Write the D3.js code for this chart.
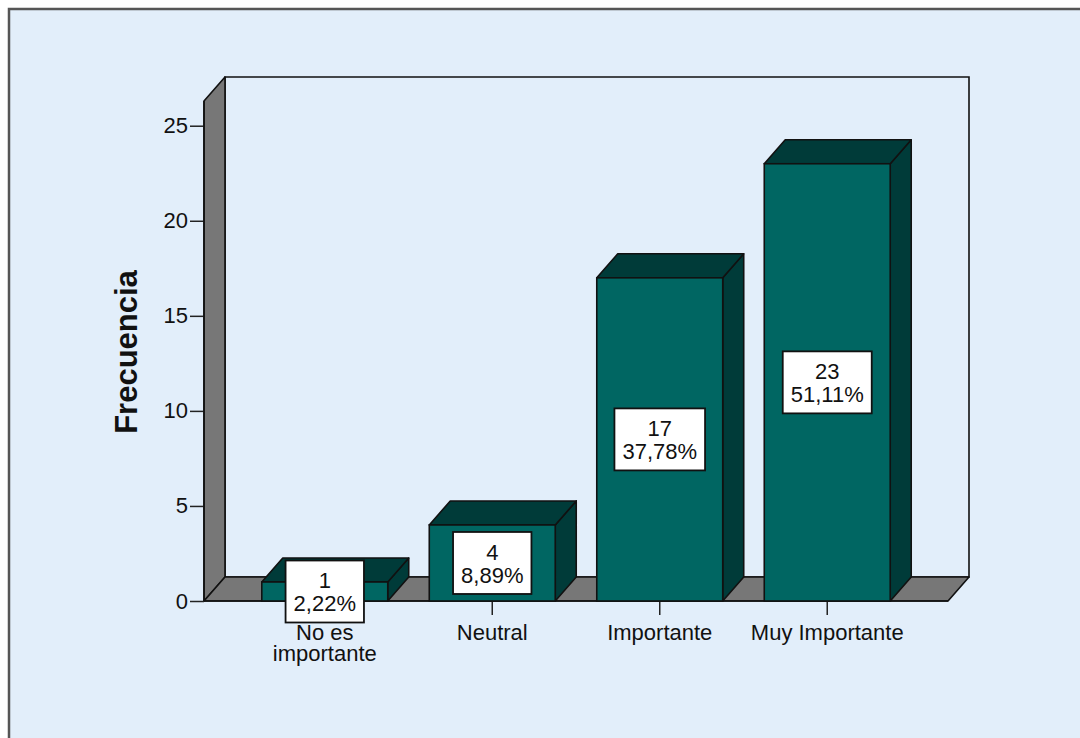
<!DOCTYPE html>
<html>
<head>
<meta charset="utf-8">
<script src="https://cdn.jsdelivr.net/npm/d3@7/dist/d3.min.js"></script>
<style>
  html, body { margin: 0; padding: 0; background: #ffffff; }
  svg { display: block; }
  text { font-family: Arial, "Liberation Sans", sans-serif; fill: #111; }
</style>
</head>
<body>
<svg id="chart" width="1080" height="738"></svg>
<script>
// Frequency of answers per category
const categories = ["No es importante", "Neutral", "Importante", "Muy Importante"];
const counts = [1, 4, 17, 23];
const xTickLabels = [["No es", "importante"], ["Neutral"], ["Importante"], ["Muy Importante"]];
const yTicks = [0, 5, 10, 15, 20, 25];
const yTitle = "Frecuencia";

const total = d3.sum(counts);
const pctFmt = v => d3.format(".2f")(v).replace(".", ",") + "%";

const svg = d3.select("#chart");
const W = 1080, H = 738;

// Colours
const bg = "#e2eefa";
const wallGray = "#777777";
const barFront = "#006662";
const barTop = "#003b39";
const barSide = "#003b39";
const edge = "#111111";

// Outer panel
svg.append("rect").attr("x", 9).attr("y", 9).attr("width", W + 40).attr("height", H + 40)
  .attr("fill", bg).attr("stroke", "#555").attr("stroke-width", 2.5);

// Plot geometry (front plane) and depth offset of the 3D walls/bars
const plot = { left: 204, right: 948, bottom: 601, top: 101 };
const depth = { dx: 21, dy: -24 };

const x = d3.scaleBand().domain(categories)
  .range([plot.left, plot.right]).paddingInner(0.248).paddingOuter(0.345);
const y = d3.scaleLinear().domain([0, 26.3]).range([plot.bottom, plot.top]);

const poly = pts => "M" + pts.map(p => p.join(",")).join("L") + "Z";

// Back wall
svg.append("path")
  .attr("d", poly([
    [plot.left + depth.dx, plot.bottom + depth.dy],
    [plot.left + depth.dx, plot.top + depth.dy],
    [plot.right + depth.dx, plot.top + depth.dy],
    [plot.right + depth.dx, plot.bottom + depth.dy]
  ]))
  .attr("fill", bg).attr("stroke", edge).attr("stroke-width", 1.6);

// Left side wall
svg.append("path")
  .attr("d", poly([
    [plot.left, plot.bottom], [plot.left, plot.top],
    [plot.left + depth.dx, plot.top + depth.dy],
    [plot.left + depth.dx, plot.bottom + depth.dy]
  ]))
  .attr("fill", wallGray).attr("stroke", edge).attr("stroke-width", 1.6).attr("stroke-linejoin", "round");

// Floor
svg.append("path")
  .attr("d", poly([
    [plot.left, plot.bottom], [plot.right, plot.bottom],
    [plot.right + depth.dx, plot.bottom + depth.dy],
    [plot.left + depth.dx, plot.bottom + depth.dy]
  ]))
  .attr("fill", wallGray).attr("stroke", edge).attr("stroke-width", 1.6).attr("stroke-linejoin", "round");

// Y axis
const yAxis = d3.axisLeft(y).tickValues(yTicks).tickSize(14).tickPadding(2).tickFormat(d3.format("d"));
const gy = svg.append("g").attr("transform", `translate(${plot.left},0)`).call(yAxis);
gy.select(".domain").remove();
gy.selectAll(".tick line").attr("stroke", "#222").attr("stroke-width", 1.5);
gy.selectAll(".tick text").attr("font-size", 22).attr("fill", "#222")
  .style("font-family", "Arial, 'Liberation Sans', sans-serif");

// X axis
const xAxis = d3.axisBottom(x).tickSize(14).tickPadding(0).tickFormat("");
const gx = svg.append("g").attr("transform", `translate(0,${plot.bottom})`).call(xAxis);
gx.select(".domain").remove();
gx.selectAll(".tick line").attr("stroke", "#222").attr("stroke-width", 1.5);
gx.selectAll(".tick").each(function (d, i) {
  const t = d3.select(this).append("text")
    .attr("text-anchor", "middle").attr("font-size", 22).attr("fill", "#222")
    .style("font-family", "Arial, 'Liberation Sans', sans-serif");
  xTickLabels[i].forEach((line, k) => {
    t.append("tspan").attr("x", 0).attr("y", 39 + k * 21).text(line);
  });
});

// Front axis edges
svg.append("line").attr("x1", plot.left).attr("x2", plot.right)
  .attr("y1", plot.bottom).attr("y2", plot.bottom).attr("stroke", edge).attr("stroke-width", 1.6);
svg.append("line").attr("x1", plot.left).attr("x2", plot.left)
  .attr("y1", plot.bottom).attr("y2", plot.top).attr("stroke", edge).attr("stroke-width", 1.6);

// Bars
const bars = svg.append("g");
categories.forEach((c, i) => {
  const x0 = x(c), x1 = x(c) + x.bandwidth();
  const yt = y(counts[i]), yb = y(0);
  const g = bars.append("g");
  g.append("path").attr("d", poly([
    [x1, yb], [x1, yt], [x1 + depth.dx, yt + depth.dy], [x1 + depth.dx, yb + depth.dy]
  ])).attr("fill", barSide).attr("stroke", edge).attr("stroke-width", 1.6).attr("stroke-linejoin", "round");
  g.append("path").attr("d", poly([
    [x0, yt], [x1, yt], [x1 + depth.dx, yt + depth.dy], [x0 + depth.dx, yt + depth.dy]
  ])).attr("fill", barTop).attr("stroke", edge).attr("stroke-width", 1.6).attr("stroke-linejoin", "round");
  g.append("rect").attr("x", x0).attr("y", yt).attr("width", x1 - x0).attr("height", yb - yt)
    .attr("fill", barFront).attr("stroke", edge).attr("stroke-width", 1.6);
});

// Value labels (count and percentage) centred on each bar
const labels = svg.append("g");
categories.forEach((c, i) => {
  const cx = x(c) + x.bandwidth() / 2;
  const cy = y(counts[i] / 2);
  const g = labels.append("g").attr("transform", `translate(${cx},${cy})`);
  const box = g.append("rect").attr("fill", "#ffffff").attr("stroke", edge).attr("stroke-width", 1.8);
  const t = g.append("text").attr("text-anchor", "middle").attr("font-size", 22).attr("fill", "#111");
  const l1 = t.append("tspan").attr("x", 0).attr("y", -3).text(counts[i]);
  const l2 = t.append("tspan").attr("x", 0).attr("y", 20).text(pctFmt(counts[i] / total * 100));
  const w = Math.max(l1.node().getComputedTextLength(), l2.node().getComputedTextLength()) + 16;
  box.attr("x", -w / 2).attr("y", -31).attr("width", w).attr("height", 62);
});

// Y axis title
svg.append("text")
  .attr("transform", "translate(137,352) rotate(-90)")
  .attr("text-anchor", "middle").attr("font-size", 31).attr("font-weight", "bold").attr("fill", "#111")
  .text(yTitle);
</script>
</body>
</html>
